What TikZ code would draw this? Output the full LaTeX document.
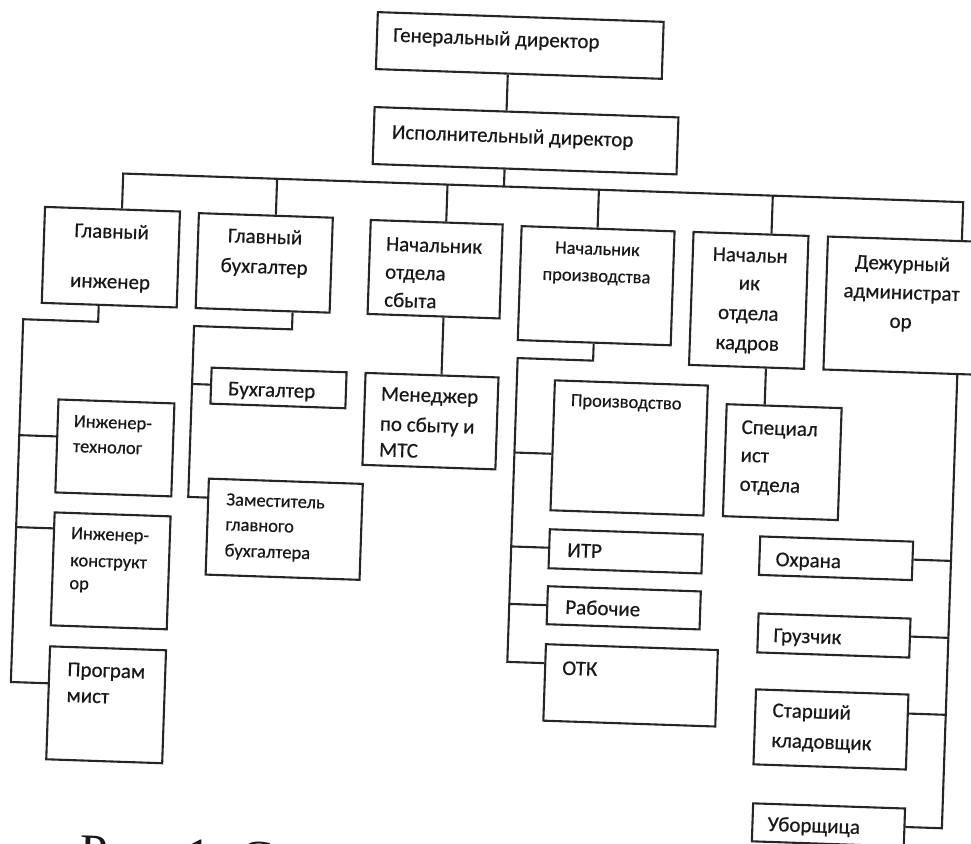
\documentclass[tikz,border=0pt]{standalone}
\usepackage{fontspec}
\setmainfont{Carlito}[FakeBold=0.5]
\newfontfamily\capfont{Liberation Serif}
\newcommand\bx[5]{%
  \pgfmathsetmacro\bxw{#4-#2}\pgfmathsetmacro\bxh{#5-#3}%
  \node[box, minimum width=\bxw pt, minimum height=\bxh pt] (#1) at ({(#2+#4)/2},{(#3+#5)/2}) {};}
\begin{document}
\begin{tikzpicture}[x=1pt,y=-1pt,
  box/.style={draw=black!85, line width=2.1pt, rectangle, inner sep=0pt},
  con/.style={draw=black!85, line width=2.1pt},
  big/.style={font=\fontsize{21}{25}\selectfont},
  sml/.style={font=\fontsize{18.5}{22}\selectfont},
  tl/.style={anchor=base west, inner sep=0pt, text=black!90},
  tc/.style={anchor=base, inner sep=0pt, text=black!90},
]
\fill[white] (0,0) rectangle (971,843);
\useasboundingbox (0,0) rectangle (971,843);
\begin{scope}[rotate around={-1.95:(485,421)}, transform shape]
% boxes
\bx{gen}{364}{16}{650}{73}
\bx{isp}{364}{111}{668}{168}
\bx{gi}{38}{222}{173}{318}
\bx{gb}{192}{223}{326}{318}
\bx{nos}{364}{224}{496}{318}
\bx{np}{515}{225}{668}{339}
\bx{nok}{687}{225}{802}{358}
\bx{da}{821.5}{225}{985}{358}
\bx{tech}{58}{414}{174}{507}
\bx{kons}{58}{527}{174}{640}
\bx{prog}{58}{661}{174}{774}
\bx{buh}{210}{377}{345}{413}
\bx{zam}{211}{488}{365}{584}
\bx{men}{364}{377}{497}{469}
\bx{proizv}{553.5}{378}{706.5}{508}
\bx{itr}{553.5}{527}{706.5}{566}
\bx{rab}{553.5}{584}{706.5}{622}
\bx{otk}{553.5}{642}{725.5}{718.5}
\bx{spec}{726}{396}{841}{508}
\bx{ohr}{764}{527}{917}{565.5}
\bx{gruz}{765}{604}{917}{643}
\bx{stk}{765}{680}{917.5}{755}
\bx{ubor}{766}{794}{918}{832}
% junction coordinates
\coordinate (jgen) at (496,0);
\coordinate (busL) at (115,186);
\coordinate (busR) at (955.5,186);
\coordinate (jgb) at (269,186);
\coordinate (jnos) at (439.5,186);
\coordinate (jnp) at (591,186);
\coordinate (jnok) at (765,186);
% top connectors
\draw[con] (gen.south -| jgen) -- (isp.north -| jgen);
\draw[con] (isp.south -| jgen) -- (jgen |- busL);
\draw[con] (busL |- gi.north) -- (busL) -- (busR) -- (busR |- da.north);
\draw[con] (jgb) -- (jgb |- gb.north);
\draw[con] (jnos) -- (jnos |- nos.north);
\draw[con] (jnp) -- (jnp |- np.north);
\draw[con] (jnok) -- (jnok |- nok.north);
% Главный инженер
\coordinate (gic) at (95,335);
\coordinate (gil) at (20,335);
\coordinate (gib) at (20,698);
\coordinate (gi1) at (20,451);
\coordinate (gi2) at (20,543);
\draw[con] (gi.south -| gic) -- (gic) -- (gil) -- (gib) -- (gib -| prog.west);
\draw[con] (gi1) -- (gi1 -| tech.west);
\draw[con] (gi2) -- (gi2 -| kons.west);
% Главный бухгалтер
\coordinate (gbc) at (289,336);
\coordinate (gbl) at (191,336);
\coordinate (gbb) at (191,507);
\coordinate (gb1) at (191,394);
\draw[con] (gb.south -| gbc) -- (gbc) -- (gbl) -- (gbb) -- (gbb -| zam.west);
\draw[con] (gb1) -- (gb1 -| buh.west);
% Начальник отдела сбыта
\coordinate (nosc) at (440,0);
\draw[con] (nos.south -| nosc) -- (men.north -| nosc);
% Начальник производства
\coordinate (npc) at (591,357);
\coordinate (npl) at (515.5,357);
\coordinate (npb) at (515.5,661);
\coordinate (np1) at (515.5,451.5);
\coordinate (np2) at (515.5,545.5);
\coordinate (np3) at (515.5,603);
\draw[con] (np.south -| npc) -- (npc) -- (npl) -- (npb) -- (npb -| otk.west);
\draw[con] (np1) -- (np1 -| proizv.west);
\draw[con] (np2) -- (np2 -| itr.west);
\draw[con] (np3) -- (np3 -| rab.west);
% Начальник отдела кадров
\coordinate (nokc) at (764,0);
\draw[con] (nok.south -| nokc) -- (spec.north -| nokc);
% Дежурный администратор
\coordinate (dac) at (955.5,0);
\coordinate (dab) at (955.5,812.5);
\coordinate (da1) at (955.5,545);
\coordinate (da2) at (955.5,622);
\coordinate (da3) at (955.5,699);
\draw[con] (da.south -| dac) -- (dab) -- (dab -| ubor.east);
\draw[con] (da1) -- (da1 -| ohr.east);
\draw[con] (da2) -- (da2 -| gruz.east);
\draw[con] (da3) -- (da3 -| stk.east);
% texts
\node[tl,big] (tgen) at (380,45) {Генеральный директор};
\node[tl,big] (tisp) at (382,142) {Исполнительный директор};
\node[tc,big] (tgi1) at (105.5,251) {Главный};
\node[tc,big] (tgi2) at (105.5,301) {инженер};
\node[tc,big] (tgb1) at (259,251) {Главный};
\node[tc,big] (tgb2) at (259,281) {бухгалтер};
\node[tl,big] (tnos1) at (380,254) {Начальник};
\node[tl,big] (tnos2) at (380,282) {отдела};
\node[tl,big] (tnos3) at (380,310) {сбыта};
\node[tc,sml] (tnp1) at (591.5,251) {Начальник};
\node[tc,sml] (tnp2) at (591.5,278) {производства};
\node[tc,big] (tnok1) at (744.5,253) {Начальн};
\node[tc,big] (tnok2) at (744.5,281) {ик};
\node[tc,big] (tnok3) at (744.5,311) {отдела};
\node[tc,big] (tnok4) at (744.5,341) {кадров};
\node[tc,big] (tda1) at (897,256) {Дежурный};
\node[tc,big] (tda2) at (897,285) {администрат};
\node[tc,big] (tda3) at (897,314) {ор};
\node[tl,sml] (ttech1) at (74,441) {Инженер-};
\node[tl,sml] (ttech2) at (74,466) {технолог};
\node[tl,sml] (tkons1) at (75,553) {Инженер-};
\node[tl,sml] (tkons2) at (75,580) {конструкт};
\node[tl,sml] (tkons3) at (75,603) {ор};
\node[tl,big] (tprog1) at (76,690) {Програм};
\node[tl,big] (tprog2) at (76,716) {мист};
\node[tl,big] (tbuh) at (227,404) {Бухгалтер};
\node[tl,sml] (tzam1) at (229,514) {Заместитель};
\node[tl,sml] (tzam2) at (229,539) {главного};
\node[tl,sml] (tzam3) at (229,565) {бухгалтера};
\node[tl,big] (tmen1) at (380,404) {Менеджер};
\node[tl,big] (tmen2) at (380,434) {по сбыту и};
\node[tl,big] (tmen3) at (380,460) {МТС};
\node[tl,sml] (tproizv) at (570,403) {Производство};
\node[tl,big] (titr) at (571.5,554) {ИТР};
\node[tl,big] (trab) at (571.5,611) {Рабочие};
\node[tl,big] (totk) at (570.5,672) {ОТК};
\node[tl,big] (tspec1) at (741.5,425) {Специал};
\node[tl,big] (tspec2) at (741.5,453) {ист};
\node[tl,big] (tspec3) at (741.5,482) {отдела};
\node[tl,big] (tohr) at (780,556) {Охрана};
\node[tl,big] (tgruz) at (780.5,632) {Грузчик};
\node[tl,big] (tstk1) at (782,707) {Старший};
\node[tl,big] (tstk2) at (782,737) {кладовщик};
\node[tl,big] (tubor) at (781,821) {Уборщица};
% caption (cut off at the bottom edge)
\node[anchor=north west, inner sep=0pt, font=\capfont\fontsize{50}{60}\selectfont, text=black!90] (cap) at (95,849) {Рис. 1. С};
\end{scope}
\end{tikzpicture}
\end{document}
